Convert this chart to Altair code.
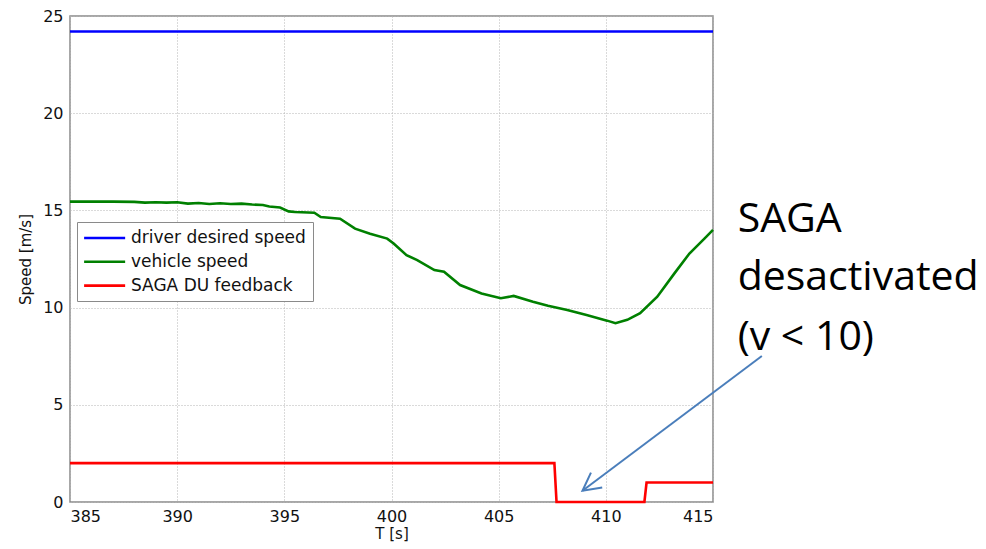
import altair as alt
import pandas as pd

# ---- data ----
t_green = [385, 386, 387, 388, 388.5, 389, 389.5, 390, 390.5, 391, 391.5, 392, 392.5,
           393, 393.5, 394, 394.3, 394.8, 395.2, 395.5, 396.4, 396.7, 397.6, 398.3,
           399.0, 399.8, 400.1, 400.7, 401.2, 402.0, 402.45, 403.2, 404.2, 405.1,
           405.7, 406.6, 407.3, 408.2, 409.1, 410.06, 410.45, 411.0, 411.6, 412.4,
           413.2, 413.9, 414.6, 415.0]
v_green = [15.45, 15.45, 15.45, 15.44, 15.40, 15.42, 15.40, 15.42, 15.35, 15.38, 15.33,
           15.37, 15.33, 15.35, 15.30, 15.28, 15.20, 15.15, 14.95, 14.92, 14.88, 14.66,
           14.57, 14.06, 13.80, 13.55, 13.30, 12.70, 12.44, 11.93, 11.84, 11.16, 10.73,
           10.48, 10.60, 10.30, 10.09, 9.88, 9.62, 9.33, 9.20, 9.37, 9.71, 10.56,
           11.76, 12.78, 13.55, 14.00]

t_blue = [385, 415]
v_blue = [24.2, 24.2]

t_red = [385, 407.6, 407.7, 411.8, 411.9, 415]
v_red = [2, 2, 0, 0, 1, 1]

series_names = ["driver desired speed", "vehicle speed", "SAGA DU feedback"]
series_colors = ["#0000ff", "#008000", "#ff0000"]

x_ticks = [385, 390, 395, 400, 405, 410, 415]
y_ticks = [0, 5, 10, 15, 20, 25]

# annotation (data coordinates)
note_lines = ["SAGA", "desactivated", "(v < 10)"]
note_t = [416.15, 416.15, 416.15]
note_v = [13.89, 10.9, 7.82]
arrow_t = [417.28, 408.91]
arrow_v = [7.51, 0.58]

# ---- tables ----
rows = []
for t, v in zip(t_blue, v_blue):
    rows.append({"T": t, "v": v, "series": series_names[0], "o": 0})
for t, v in zip(t_green, v_green):
    rows.append({"T": t, "v": v, "series": series_names[1], "o": 1})
for t, v in zip(t_red, v_red):
    rows.append({"T": t, "v": v, "series": series_names[2], "o": 2})
lines_df = pd.DataFrame(rows)

note_df = pd.DataFrame({"T": note_t, "v": note_v, "text": note_lines})
arrow_df = pd.DataFrame({"T": [arrow_t[0]], "v": [arrow_v[0]],
                         "T2": [arrow_t[1]], "v2": [arrow_v[1]]})
head_df = pd.DataFrame({"T": [arrow_t[1]], "v": [arrow_v[1]]})

xscale = alt.Scale(domain=[385, 415], nice=False, zero=False)
yscale = alt.Scale(domain=[0, 25], nice=False)

x_axis = alt.Axis(values=x_ticks, title="T [s]", grid=True, domain=False, ticks=False,
                  labelPadding=6, titlePadding=2, format="d")
y_axis = alt.Axis(values=y_ticks, title="Speed [m/s]", grid=True, domain=False, ticks=False,
                  labelPadding=7, titlePadding=9)

lines = alt.Chart(lines_df).mark_line(strokeWidth=2.6).encode(
    x=alt.X("T:Q", scale=xscale, axis=x_axis),
    y=alt.Y("v:Q", scale=yscale, axis=y_axis),
    color=alt.Color("series:N",
                    scale=alt.Scale(domain=series_names, range=series_colors),
                    sort=series_names,
                    legend=alt.Legend(title=None, orient="none", legendX=7, legendY=206,
                                      symbolType="M-1.17,0L4.23,0", symbolSize=231,
                                      symbolStrokeWidth=2.6, labelFontSize=17,
                                      labelFont="DejaVu Sans", labelColor="#111",
                                      labelOffset=29, padding=7, rowPadding=6.8,
                                      strokeColor="#8a8a8a", fillColor="white",
                                      labelLimit=400)),
    order="o:Q",
    detail="series:N",
)

arrow = alt.Chart(arrow_df).mark_rule(color="#4a7ebb", strokeWidth=2).encode(
    x=alt.X("T:Q", scale=xscale), y=alt.Y("v:Q", scale=yscale),
    x2="T2:Q", y2="v2:Q",
)

head = alt.Chart(head_df).mark_point(
    shape="M-0.53,1 L0,0 L0.53,1", filled=False, color="#4a7ebb",
    strokeWidth=2, size=1250, angle=233, opacity=1,
).encode(x=alt.X("T:Q", scale=xscale), y=alt.Y("v:Q", scale=yscale))

note = alt.Chart(note_df).mark_text(
    align="left", baseline="alphabetic", font="Open Sans", fontSize=41, color="#000",
).encode(x=alt.X("T:Q", scale=xscale), y=alt.Y("v:Q", scale=yscale), text="text:N")

chart = alt.layer(lines, arrow, head, note).properties(
    width=643, height=486,
    autosize=alt.AutoSizeParams(type="none"),
    padding={"left": 70, "top": 16, "right": 273, "bottom": 47},
    background="white",
).configure_view(
    stroke="#8a8a8a", strokeWidth=1.5,
).configure_axis(
    labelFont="DejaVu Sans", labelFontSize=16, labelColor="#111",
    titleFont="DejaVu Sans", titleFontSize=15, titleColor="#111", titleFontWeight="normal",
    gridColor="#b5b5b5", gridDash=[1, 2], gridWidth=1, gridOpacity=1,
)

chart.save("out.html", embed_options={"renderer": "svg", "actions": False})
